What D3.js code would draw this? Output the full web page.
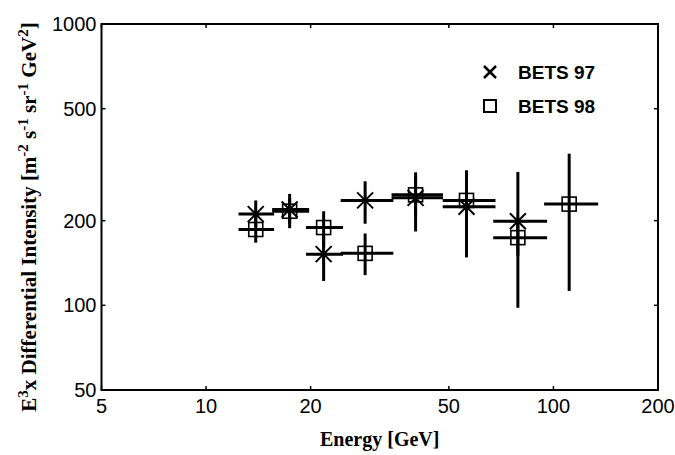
<!DOCTYPE html>
<html><head><meta charset="utf-8">
<script src="https://cdn.jsdelivr.net/npm/d3@7"></script>
<style>body{margin:0;background:#fff}svg{display:block}</style>
</head><body>
<script>
// BETS 97 (asterisk markers)
const energy97 = [13.9, 17.4, 21.8, 28.7, 40.1, 56.2, 79.0];
const flux97   = [211, 219, 152, 236, 241, 224, 199];
const eLo97    = [12.4, 15.5, 19.4, 24.4, 34.2, 48.0, 67.1];
const eHi97    = [15.7, 19.8, 24.8, 34.6, 48.1, 68.1, 95.9];
const fLo97    = [190, 188, 122, 195, 183, 148, 150];
const fHi97    = [236, 249, 180, 276, 297, 302, 298];
// BETS 98 (square markers)
const energy98 = [13.9, 17.4, 21.8, 28.7, 40.1, 56.2, 79.0, 111];
const flux98   = [186, 216, 189, 153, 247, 236, 174, 229];
const eLo98    = [12.4, 15.5, 19.4, 24.4, 34.2, 48.0, 67.1, 94];
const eHi98    = [15.7, 19.8, 24.8, 34.6, 48.1, 68.1, 95.9, 134.5];
const fLo98    = [167, 195, 162, 128, 210, 205, 98, 112.5];
const fHi98    = [206, 240, 216, 180, 285, 268, 205, 346];
const xTicks = [5, 10, 20, 50, 100, 200];
const yTicks = [50, 100, 200, 500, 1000];
const legendLabels = ["BETS 97", "BETS 98"];

const W = 675, H = 455;
const L = 101.5, R = 658, T = 24, B = 390;
const svg = d3.select("body").append("svg").attr("width", W).attr("height", H);
const x = d3.scaleLog().domain([5, 200]).range([L, R]);
const y = d3.scaleLog().domain([50, 1000]).range([B, T]);

// frame
svg.append("rect").attr("x", L).attr("y", T).attr("width", R - L).attr("height", B - T)
  .attr("fill", "none").attr("stroke", "#000").attr("stroke-width", 2);

// ticks (inward, all four sides)
const tk = 4;
xTicks.forEach(v => {
  svg.append("line").attr("x1", x(v)).attr("x2", x(v)).attr("y1", B).attr("y2", B - tk).attr("stroke", "#000").attr("stroke-width", 1.5);
  svg.append("line").attr("x1", x(v)).attr("x2", x(v)).attr("y1", T).attr("y2", T + tk).attr("stroke", "#000").attr("stroke-width", 1.5);
  svg.append("text").attr("x", x(v)).attr("y", 406).attr("text-anchor", "middle").attr("dominant-baseline", "central")
    .attr("font-family", "Liberation Sans, Arial, sans-serif").attr("font-size", 20).text(v);
});
yTicks.forEach(v => {
  svg.append("line").attr("x1", L).attr("x2", L + tk).attr("y1", y(v)).attr("y2", y(v)).attr("stroke", "#000").attr("stroke-width", 1.5);
  svg.append("line").attr("x1", R).attr("x2", R - tk).attr("y1", y(v)).attr("y2", y(v)).attr("stroke", "#000").attr("stroke-width", 1.5);
  svg.append("text").attr("x", L - 5).attr("y", y(v)).attr("text-anchor", "end").attr("dominant-baseline", "central")
    .attr("font-family", "Liberation Sans, Arial, sans-serif").attr("font-size", 20).text(v);
});

// axis labels
svg.append("text").attr("x", (L + R) / 2).attr("y", 446).attr("text-anchor", "middle")
  .attr("font-family", "Liberation Serif, Times New Roman, serif").attr("font-weight", "bold").attr("font-size", 20)
  .text("Energy [GeV]");
const yl = svg.append("text").attr("transform", `translate(36,${(T + B) / 2 + 10}) rotate(-90)`).attr("text-anchor", "middle")
  .attr("font-family", "Liberation Serif, Times New Roman, serif").attr("font-weight", "bold").attr("font-size", 21);
const parts = [["E", 0], ["3", 1], ["x Differential Intensity [m", 0], ["-2", 1], [" s", 0], ["-1", 1], [" sr", 0], ["-1", 1], [" GeV", 0], ["2", 1], ["]", 0]];
let prevSup = 0;
parts.forEach(([t, s]) => {
  const ts = yl.append("tspan").text(t);
  if (s) { ts.attr("dy", prevSup ? 0 : -8).attr("font-size", 15); }
  else { ts.attr("dy", prevSup ? 8 : 0); }
  prevSup = s;
});

const g = svg.append("g");
// error bars
function errBars(E, F, eLo, eHi, fLo, fHi, w) {
  E.forEach((e, i) => {
    g.append("line").attr("x1", x(eLo[i])).attr("x2", x(eHi[i])).attr("y1", y(F[i])).attr("y2", y(F[i]))
      .attr("stroke", "#000").attr("stroke-width", w);
    g.append("line").attr("x1", x(e)).attr("x2", x(e)).attr("y1", y(fLo[i])).attr("y2", y(fHi[i]))
      .attr("stroke", "#000").attr("stroke-width", 3);
  });
}
errBars(energy97, flux97, eLo97, eHi97, fLo97, fHi97, 3);
errBars(energy98, flux98, eLo98, eHi98, fLo98, fHi98, 3);

// asterisk markers
const a = 8;
energy97.forEach((e, i) => {
  const cx = x(e), cy = y(flux97[i]);
  [[-a, -a, a, a], [-a, a, a, -a], [-a * 1.2, 0, a * 1.2, 0], [0, -a * 1.2, 0, a * 1.2]].forEach(d => {
    g.append("line").attr("x1", cx + d[0]).attr("y1", cy + d[1]).attr("x2", cx + d[2]).attr("y2", cy + d[3])
      .attr("stroke", "#000").attr("stroke-width", 2);
  });
  g.append("circle").attr("cx", cx).attr("cy", cy).attr("r", 3).attr("fill", "#000");
});
// square markers
const s = 14;
energy98.forEach((e, i) => {
  g.append("rect").attr("x", x(e) - s / 2).attr("y", y(flux98[i]) - s / 2).attr("width", s).attr("height", s)
    .attr("fill", "none").attr("stroke", "#000").attr("stroke-width", 1.6);
});

// legend
const lx = 490, ly = [72, 106];
const lg = svg.append("g");
lg.append("line").attr("x1", lx - 6).attr("y1", ly[0] - 6).attr("x2", lx + 6).attr("y2", ly[0] + 6).attr("stroke", "#000").attr("stroke-width", 2.5);
lg.append("line").attr("x1", lx - 6).attr("y1", ly[0] + 6).attr("x2", lx + 6).attr("y2", ly[0] - 6).attr("stroke", "#000").attr("stroke-width", 2.5);
lg.append("rect").attr("x", lx - 6).attr("y", ly[1] - 6).attr("width", 12).attr("height", 12)
  .attr("fill", "none").attr("stroke", "#000").attr("stroke-width", 2);
legendLabels.forEach((t, i) => {
  lg.append("text").attr("x", 518).attr("y", ly[i]).attr("dominant-baseline", "central")
    .attr("font-family", "Liberation Sans, Arial, sans-serif").attr("font-weight", "bold").attr("font-size", 19).text(t);
});
</script>
</body></html>
